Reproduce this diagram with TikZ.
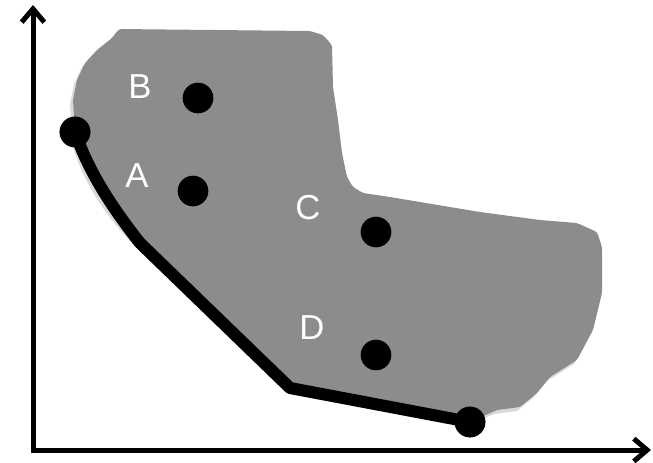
\documentclass[tikz,border=0pt]{standalone}
\usepackage{fontspec}
\setmainfont{Liberation Sans}
\usetikzlibrary{arrows.meta}
\definecolor{regione}{RGB}{140,140,140}

\begin{document}
\begin{tikzpicture}[x=0.75pt, y=-0.75pt,
  >={Straight Barb[length=10pt,width=17pt]},
  punto/.style={circle, fill=black, inner sep=0pt, minimum size=23pt},
  etichetta/.style={text=white, inner sep=0pt, font=\fontsize{26}{26}\selectfont},
  fronte/.style={line width=9pt, line join=round},
  ombra/.style={black, opacity=0.15}]
\useasboundingbox (0,0) rectangle (653,462);
%==================== Assi ==================
\coordinate (O) at (33,450);
\coordinate (Y) at (33,5);
\coordinate (X) at (651,450);
%==================== Punti del fronte ==================
\coordinate (curva) at (140,243);
\coordinate (ginocchio) at (290,388);
%==================== Regione ammissibile ==================
\def\regione{(119,29) -- (310,31) -- (323,35) -- (332,45) -- (333,87)
  -- (338,120) -- (342,153) -- (347,177) -- (353,187) -- (363,193)
  -- (390,197) -- (480,212) -- (540,220) -- (577,223) -- (597,232)
  -- (602,247) -- (602,293) -- (593,330) -- (577,360) -- (550,377)
  -- (537,393) -- (520,407) -- (497,410) -- (470,422) -- (290,388)
  -- (140,243) .. controls (110,205) and (88,170) .. (75,132)
  -- (73,100) -- (77,80) -- (85,63) -- (97,50) -- (112,38) -- cycle}
\fill[ombra, shift={(-3,4)}] \regione;
\fill[regione, rounded corners=2pt] \regione;
%==================== Punti ==================
\node[punto] (p1) at (75,132) {};
\node[punto] (p2) at (470,422) {};
\node[punto] (b) at (198,98) {};
\node[punto] (a) at (193,191) {};
\node[punto] (c) at (376,232) {};
\node[punto] (d) at (376,355) {};
%==================== Fronte ==================
\draw[fronte, ombra, shift={(-3,4)}] (p1.center) .. controls (88,170) and (110,205) .. (curva) -- (ginocchio) -- (p2.center);
\draw[fronte] (p1.center) .. controls (88,170) and (110,205) .. (curva) -- (ginocchio) -- (p2.center);
\node[punto] at (p1) {};
\node[punto] at (p2) {};
%==================== Etichette ==================
\node[etichetta] (lb) at (140,87) {B};
\node[etichetta] (la) at (137,176) {A};
\node[etichetta] (lc) at (308,208) {C};
\node[etichetta] (ld) at (312,328) {D};
%==================== Assi ==================
\draw[<->, line width=3.75pt, line join=miter] (Y) -- (O) -- (X);
\end{tikzpicture}
\end{document}
